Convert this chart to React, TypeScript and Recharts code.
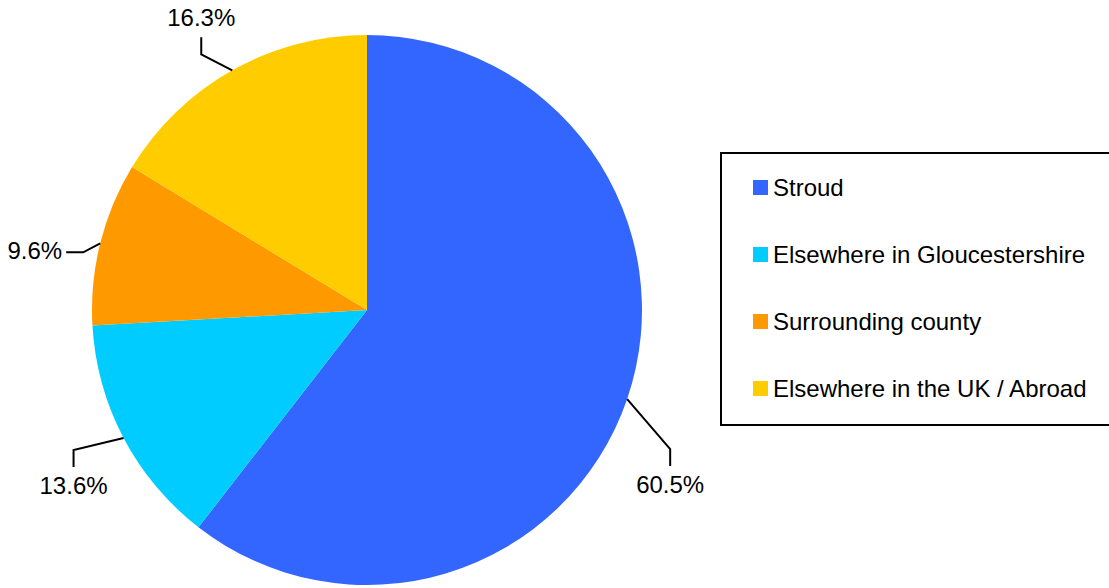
import { PieChart, Pie, Cell, Legend } from "recharts";

const categories = [
  "Stroud",
  "Elsewhere in Gloucestershire",
  "Surrounding county",
  "Elsewhere in the UK / Abroad",
];
const shares = [60.5, 13.6, 9.6, 16.3];
const colors = ["#3366FF", "#00CCFF", "#FF9900", "#FFCC00"];

// leader line: elbow offset from slice edge, then a short stub
const leaders = [
  { dx: 43, dy: 50, stub: "down" },
  { dx: -50, dy: 12, stub: "down" },
  { dx: -17, dy: 9, stub: "left" },
  { dx: -31, dy: -16, stub: "up" },
];

const FONT = "Arial, 'Liberation Sans', sans-serif";
const RAD = Math.PI / 180;

const chartData = categories.map((name, i) => ({ name, value: shares[i] }));

// eslint-disable-next-line @typescript-eslint/no-explicit-any
function renderLabel(props: any) {
  const { cx, cy, midAngle, outerRadius, index, value } = props;
  const ex = cx + outerRadius * Math.cos(-midAngle * RAD);
  const ey = cy + outerRadius * Math.sin(-midAngle * RAD);
  const l = leaders[index];
  const bx = ex + l.dx;
  const by = ey + l.dy;
  let sx = bx;
  let sy = by;
  let tx = bx;
  let ty = by;
  let anchor: "middle" | "end" = "middle";
  if (l.stub === "down") {
    sy = by + 17;
    ty = sy + 27;
  } else if (l.stub === "up") {
    sy = by - 17;
    ty = sy - 11;
  } else {
    sx = bx - 17;
    tx = sx - 4;
    ty = by + 7;
    anchor = "end";
  }
  return (
    <g>
      <polyline
        points={`${ex},${ey} ${bx},${by} ${sx},${sy}`}
        fill="none"
        stroke="#000"
        strokeWidth={2}
      />
      <text x={tx} y={ty} textAnchor={anchor} fill="#000" fontSize={24} fontFamily={FONT}>
        {`${value.toFixed(1)}%`}
      </text>
    </g>
  );
}

function LegendBox() {
  return (
    <div
      style={{
        boxSizing: "border-box",
        width: 400,
        height: 274,
        border: "2px solid #000",
        background: "#fff",
        fontFamily: FONT,
        fontSize: 24,
        color: "#000",
      }}
    >
      {categories.map((c, i) => (
        <div
          key={c}
          style={{
            height: 67,
            display: "flex",
            alignItems: "center",
            paddingLeft: 31,
            whiteSpace: "nowrap",
          }}
        >
          <span
            style={{
              display: "inline-block",
              width: 15,
              height: 15,
              background: colors[i],
              marginRight: 5,
            }}
          />
          {c}
        </div>
      ))}
    </div>
  );
}

export default function App() {
  return (
    <div
      style={{
        position: "absolute",
        left: 0,
        top: 0,
        width: 1109,
        height: 588,
        overflow: "hidden",
        background: "#fff",
      }}
    >
      <PieChart width={1109} height={588} margin={{ top: 0, right: 0, bottom: 0, left: 0 }}>
        <Pie
          data={chartData}
          dataKey="value"
          nameKey="name"
          cx={367}
          cy={310}
          outerRadius={275}
          startAngle={90}
          endAngle={-270}
          stroke="none"
          label={renderLabel}
          labelLine={false}
          isAnimationActive={false}
        >
          {chartData.map((d, i) => (
            <Cell key={d.name} fill={colors[i]} />
          ))}
        </Pie>
        <Legend
          content={() => <LegendBox />}
          wrapperStyle={{ position: "absolute", left: 720, top: 152, width: 400 }}
        />
      </PieChart>
    </div>
  );
}
